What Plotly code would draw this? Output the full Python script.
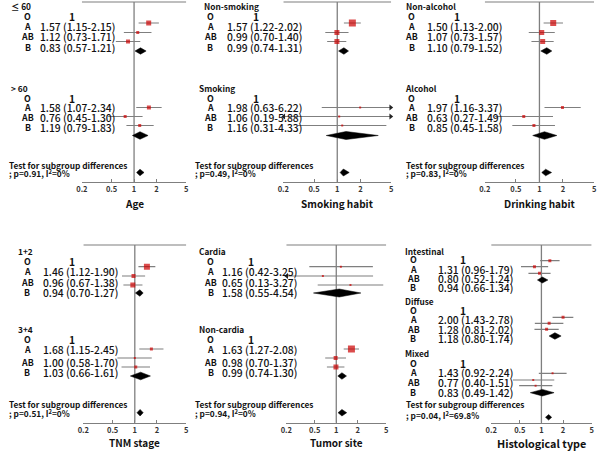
import math
import plotly.graph_objects as go

W, H = 605, 451

# ---------------- DATA ----------------
row_labels = ["O", "A", "AB", "B"]
ref_value = "1"

age_groups = ["≤ 60", "> 60"]
age_or = [[1.57, 1.12, 0.83], [1.58, 0.76, 1.19]]
age_lo = [[1.15, 0.73, 0.57], [1.07, 0.45, 0.79]]
age_hi = [[2.15, 1.71, 1.21], [2.34, 1.30, 1.83]]
age_pool = [[1.22, 1.03, 1.45], [1.20, 0.95, 1.54]]
age_total = [1.20, 1.08, 1.36]
age_test = "; p=0.91, I<sup>2</sup>=0%"

smk_groups = ["Non-smoking", "Smoking"]
smk_or = [[1.57, 0.99, 0.99], [1.98, 1.06, 1.16]]
smk_lo = [[1.22, 0.70, 0.74], [0.63, 0.19, 0.31]]
smk_hi = [[2.02, 1.40, 1.31], [6.22, 5.88, 4.33]]
smk_pool = [[1.22, 1.04, 1.40], [1.30, 0.72, 3.40]]
smk_total = [1.20, 1.09, 1.43]
smk_test = "; p=0.49, I<sup>2</sup>=0%"

alc_groups = ["Non-alcohol", "Alcohol"]
alc_or = [[1.50, 1.07, 1.10], [1.97, 0.63, 0.85]]
alc_lo = [[1.13, 0.73, 0.79], [1.16, 0.27, 0.45]]
alc_hi = [[2.00, 1.57, 1.52], [3.37, 1.49, 1.58]]
alc_pool = [[1.24, 1.04, 1.44], [1.16, 0.82, 1.67]]
alc_total = [1.20, 1.07, 1.43]
alc_test = "; p=0.83, I<sup>2</sup>=0%"

tnm_groups = ["1+2", "3+4"]
tnm_or = [[1.46, 0.96, 0.94], [1.68, 1.00, 1.03]]
tnm_lo = [[1.12, 0.67, 0.70], [1.15, 0.58, 0.66]]
tnm_hi = [[1.90, 1.38, 1.27], [2.45, 1.70, 1.61]]
tnm_pool = [[1.17, 1.02, 1.30], [1.20, 0.87, 1.63]]
tnm_total = [1.18, 1.07, 1.30]
tnm_test = "; p=0.51, I<sup>2</sup>=0%"

site_groups = ["Cardia", "Non-cardia"]
site_or = [[1.16, 0.65, 1.58], [1.63, 0.98, 0.99]]
site_lo = [[0.42, 0.13, 0.55], [1.27, 0.70, 0.74]]
site_hi = [[3.25, 3.27, 4.54], [2.08, 1.37, 1.30]]
site_pool = [[1.10, 0.48, 2.21], [1.20, 1.05, 1.39]]
site_total = [1.20, 1.06, 1.40]
site_test = "; p=0.94, I<sup>2</sup>=0%"

hist_groups = ["Intestinal", "Diffuse", "Mixed"]
hist_or = [[1.31, 0.80, 0.94], [2.00, 1.28, 1.18], [1.43, 0.77, 0.83]]
hist_lo = [[0.96, 0.52, 0.66], [1.43, 0.81, 0.80], [0.92, 0.40, 0.49]]
hist_hi = [[1.79, 1.24, 1.34], [2.78, 2.02, 1.74], [2.24, 1.51, 1.42]]
hist_pool = [[1.03, 0.88, 1.23], [1.54, 1.28, 1.88], [1.03, 0.70, 1.50]]
hist_total = [1.26, 1.14, 1.39]
hist_test = "; p=0.04, I<sup>2</sup>=69.8%"

titles = ["Age", "Smoking habit", "Drinking habit", "TNM stage", "Tumor site", "Histological type"]
tick_vals = [0.2, 0.5, 1, 2, 5]
tick_text = ["0.2", "0.5", "1", "2", "5"]
x_min, x_max = 0.2, 5

# ---------------- LAYOUT (pixel positions / styles) ----------------
top_rows = dict(
    groups=[dict(hdr=6, text=[16, 26, 36, 47], mk=[23, 32.5, 41.5], dia=51),
            dict(hdr=88, text=[98, 107.5, 117.5, 127.5], mk=[107.5, 116.5, 125.5], dia=135.5)],
    test=164.5, p=172.5, tdia=172.5, axis=182.3, top=2, title=203)
bot_rows = dict(
    groups=[dict(hdr=250.5, text=[261, 271.5, 282, 292], mk=[266.7, 276, 285], dia=293),
            dict(hdr=329, text=[339, 349, 362, 372], mk=[349, 358, 367], dia=376)],
    test=404.3, p=413, tdia=412.7, axis=422.7, top=245, title=442.7)
hist_rows = dict(
    groups=[dict(hdr=250.7, text=[259.3, 269.3, 278.3, 287.3], mk=[260.7, 266.7, 273.3], dia=280),
            dict(hdr=300.7, text=[310, 319.3, 329, 338.3], mk=[317.3, 323.3, 329.3], dia=336),
            dict(hdr=352.7, text=[363.3, 372.7, 382.3, 392.3], mk=[373.3, 380, 385.7], dia=392.7)],
    test=404.3, p=415, tdia=417.3, axis=422.7, top=245, title=443.3)

panels = [
    dict(g=age_groups, o=age_or, lo=age_lo, hi=age_hi, pool=age_pool, tot=age_total, test=age_test,
         rows=top_rows, L=77, R=183, hdr_x=[4, 4], lab_cx=22, val_x=33, one_cx=66.7, test_x=2,
         sizes=[[5, 3, 4], [4, 3, 3]], dh=[3.2, 3.8], tdh=3.3),
    dict(g=smk_groups, o=smk_or, lo=smk_lo, hi=smk_hi, pool=smk_pool, tot=smk_total, test=smk_test,
         rows=top_rows, L=281.5, R=391, hdr_x=[200, 195], lab_cx=207.5, val_x=223, one_cx=253.3, test_x=191,
         sizes=[[7, 5, 5], [2, 2, 2]], dh=[3.3, 4.0], tdh=3.5),
    dict(g=alc_groups, o=alc_or, lo=alc_lo, hi=alc_hi, pool=alc_pool, tot=alc_total, test=alc_test,
         rows=top_rows, L=486, R=597, hdr_x=[405, 404], lab_cx=412, val_x=426.7, one_cx=458.3, test_x=405,
         sizes=[[6, 5, 5], [3, 3, 3]], dh=[3.3, 3.8], tdh=3.3),
    dict(g=tnm_groups, o=tnm_or, lo=tnm_lo, hi=tnm_hi, pool=tnm_pool, tot=tnm_total, test=tnm_test,
         rows=bot_rows, L=78.5, R=183, hdr_x=[11.5, 11], lab_cx=21.7, val_x=36.7, one_cx=66.7, test_x=1.7,
         sizes=[[6, 4, 5], [3, 2, 3]], dh=[3.3, 3.8], tdh=3.3),
    dict(g=site_groups, o=site_or, lo=site_lo, hi=site_hi, pool=site_pool, tot=site_total, test=site_test,
         rows=bot_rows, L=284.5, R=386, hdr_x=[195, 195], lab_cx=208, val_x=218.3, one_cx=248.3, test_x=190.7,
         sizes=[[2, 2, 2], [7, 4, 5]], dh=[4.0, 3.3], tdh=3.3),
    dict(g=hist_groups, o=hist_or, lo=hist_lo, hi=hist_hi, pool=hist_pool, tot=hist_total, test=hist_test,
         rows=hist_rows, L=492.5, R=594.5, hdr_x=[404, 404, 404], lab_cx=413.3, val_x=437.3, one_cx=464.3, test_x=405,
         sizes=[[3, 3, 3], [3, 3, 3], [2, 2, 2]], dh=[3.0, 3.3, 3.3], tdh=2.8),
]

FONT = "Noto Sans CJK KR, Noto Sans, sans-serif"
GRAY = "#7f7f7f"
RED = "#cc0000"
VAL_SIZE = 10.3
HDR_SIZE = 8.3
LAB_SIZE = 8.8
TITLE_SIZE = 10

fig = go.Figure()
annotations = []


def add_text(txt, x, y, anchor="left", size=VAL_SIZE, weight="normal"):
    annotations.append(dict(
        text=txt, x=x / W, xref="paper", y=y, yref="y", xanchor=anchor, yanchor="middle",
        showarrow=False, borderpad=0, font=dict(family=FONT, size=size, color="#111", weight=weight)))


def diamond(xname, est, lo, hi, yc, h):
    fig.add_trace(go.Scatter(
        x=[lo, est, hi, est, lo], y=[yc, yc - h, yc, yc + h, yc], xaxis=xname, yaxis="y",
        mode="lines", fill="toself", fillcolor="black", line=dict(width=0.5, color="black"),
        hoverinfo="skip", showlegend=False))


layout_axes = {}
for i, p in enumerate(panels):
    n = i + 1
    xname = "x" if n == 1 else f"x{n}"
    rows = p["rows"]
    layout_axes["xaxis" if n == 1 else f"xaxis{n}"] = dict(
        type="log", range=[math.log10(x_min), math.log10(x_max)],
        domain=[p["L"] / W, p["R"] / W], anchor="free", position=1 - rows["axis"] / H,
        showline=True, linecolor=GRAY, linewidth=1, ticks="inside", ticklen=3, tickcolor=GRAY,
        tickvals=tick_vals, ticktext=tick_text, showgrid=False, zeroline=False,
        tickfont=dict(family=FONT, size=7.5, color="#333", weight="bold"), fixedrange=True)

    # top line and reference vertical line
    fig.add_trace(go.Scatter(x=[x_min, x_max], y=[rows["top"], rows["top"]], xaxis=xname, yaxis="y",
                             mode="lines", line=dict(color=GRAY, width=1.2), hoverinfo="skip",
                             showlegend=False))
    fig.add_trace(go.Scatter(x=[1, 1], y=[rows["top"], rows["axis"]], xaxis=xname, yaxis="y",
                             mode="lines", line=dict(color=GRAY, width=1.3), hoverinfo="skip",
                             showlegend=False))

    for gi, gname in enumerate(p["g"]):
        gr = rows["groups"][gi]
        add_text(gname, p["hdr_x"][gi], gr["hdr"], size=HDR_SIZE, weight="bold")
        for ri, lab in enumerate(row_labels):
            add_text(lab, p["lab_cx"], gr["text"][ri], anchor="center", size=LAB_SIZE, weight="bold")
        add_text(ref_value, p["one_cx"], gr["text"][0], anchor="center", size=VAL_SIZE, weight="bold")
        for k in range(3):
            o, lo, hi = p["o"][gi][k], p["lo"][gi][k], p["hi"][gi][k]
            add_text(f"{o:.2f} ({lo:.2f}-{hi:.2f})", p["val_x"], gr["text"][k + 1], weight=500)
        # CI lines
        xs, ys = [], []
        for k in range(3):
            xs += [p["lo"][gi][k], p["hi"][gi][k], None]
            ys += [gr["mk"][k], gr["mk"][k], None]
        fig.add_trace(go.Scatter(x=xs, y=ys, xaxis=xname, yaxis="y", mode="lines",
                                 line=dict(color=GRAY, width=1.2), hoverinfo="skip", showlegend=False))
        # arrows for truncated CIs
        ax_x, ax_y, ax_s = [], [], []
        for k in range(3):
            if p["hi"][gi][k] > x_max:
                ax_x.append(x_max * 0.985); ax_y.append(gr["mk"][k]); ax_s.append("triangle-right")
            if p["lo"][gi][k] < x_min:
                ax_x.append(x_min / 0.985); ax_y.append(gr["mk"][k]); ax_s.append("triangle-left")
        if ax_x:
            fig.add_trace(go.Scatter(x=ax_x, y=ax_y, xaxis=xname, yaxis="y", mode="markers",
                                     marker=dict(symbol=ax_s, size=5, color="#222"),
                                     cliponaxis=False, hoverinfo="skip", showlegend=False))
        # squares
        fig.add_trace(go.Scatter(x=p["o"][gi], y=gr["mk"], xaxis=xname, yaxis="y", mode="markers",
                                 marker=dict(symbol="square", size=p["sizes"][gi], color=RED,
                                             line=dict(width=0)),
                                 hoverinfo="skip", showlegend=False))
        est, lo, hi = p["pool"][gi]
        diamond(xname, est, lo, hi, gr["dia"], p["dh"][gi])

    # subgroup test
    add_text("Test for subgroup differences", p["test_x"], rows["test"], size=HDR_SIZE, weight="bold")
    add_text(p["test"], p["test_x"], rows["p"], size=HDR_SIZE, weight="bold")
    est, lo, hi = p["tot"]
    diamond(xname, est, lo, hi, rows["tdia"], p["tdh"])

    # panel title
    annotations.append(dict(
        text=titles[i], x=0.5, xref=f"{xname} domain", y=rows["title"], yref="y",
        xanchor="center", yanchor="middle", showarrow=False,
        font=dict(family=FONT, size=TITLE_SIZE + (0.8 if i == 5 else 0), color="#111", weight="bold")))

fig.update_layout(
    width=W, height=H, margin=dict(l=0, r=0, t=0, b=0),
    paper_bgcolor="white", plot_bgcolor="rgba(0,0,0,0)",
    yaxis=dict(range=[H, 0], domain=[0, 1], visible=False, fixedrange=True),
    annotations=annotations, showlegend=False, **layout_axes)

fig.write_html("out.html", config={"displayModeBar": False, "staticPlot": True},
               post_script="document.body.style.margin='0px';document.body.style.overflow='hidden';")
